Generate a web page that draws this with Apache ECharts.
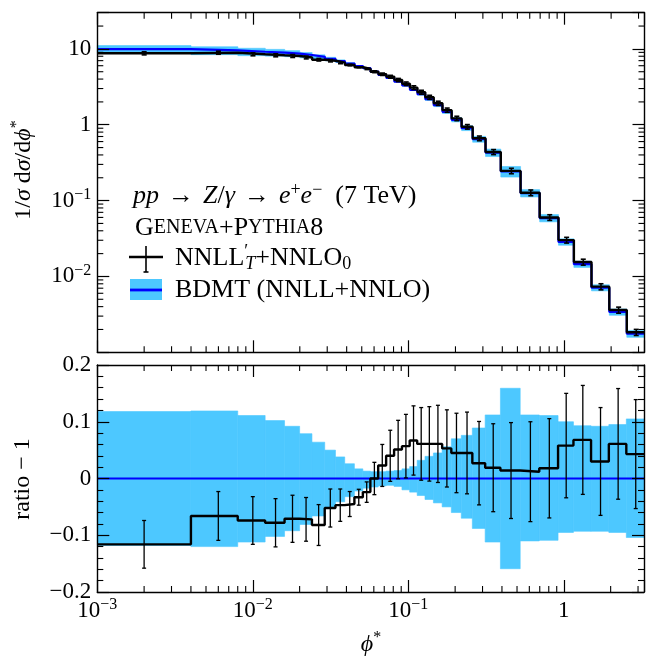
<!DOCTYPE html>
<html><head><meta charset="utf-8">
<script src="https://cdn.jsdelivr.net/npm/echarts@6/dist/echarts.min.js"></script>
<style>html,body{margin:0;padding:0;background:#fff}#c{width:647px;height:658px}</style>
</head><body><div id="c"></div>
<script>
// ---- data ----
const edges = [0, 0.004, 0.008, 0.012, 0.016, 0.020, 0.024, 0.029, 0.034, 0.039, 0.045, 0.051, 0.057, 0.064, 0.072, 0.081, 0.091, 0.102, 0.114, 0.128, 0.145, 0.165, 0.189, 0.219, 0.258, 0.312, 0.391, 0.524, 0.695, 0.918, 1.153, 1.496, 1.947, 2.522, 3.277];
// BDMT central value, 1/sigma dsigma/dphi*
const bdmt = [9.90, 9.54, 9.17, 8.94, 8.68, 8.30, 7.85, 7.37, 6.90, 6.42, 5.92, 5.57, 5.00, 4.53, 4.13, 3.70, 3.29, 2.89, 2.53, 2.17, 1.81, 1.48, 1.16, 0.90, 0.645, 0.429, 0.243, 0.1255, 0.0589, 0.0285, 0.0145, 0.00712, 0.0034, 0.00176];
// GENEVA / BDMT - 1 and its uncertainty
const ratio = [-0.116, -0.066, -0.074, -0.078, -0.071, -0.072, -0.082, -0.052, -0.047, -0.045, -0.033, -0.024, 0.000, 0.023, 0.040, 0.051, 0.057, 0.067, 0.061, 0.061, 0.061, 0.053, 0.045, 0.045, 0.027, 0.019, 0.014, 0.012, 0.018, 0.058, 0.068, 0.030, 0.061, 0.043];
const ratioErr = [0.042, 0.043, 0.042, 0.0425, 0.0415, 0.0385, 0.036, 0.0335, 0.0285, 0.022, 0.014, 0.018, 0.0285, 0.037, 0.045, 0.0515, 0.056, 0.061, 0.064, 0.0656, 0.068, 0.068, 0.070, 0.072, 0.0735, 0.0775, 0.0845, 0.088, 0.0875, 0.092, 0.096, 0.095, 0.0975, 0.096];
// BDMT relative uncertainty band (up / down)
const bandUp = [0.118, 0.119, 0.111, 0.102, 0.092, 0.079, 0.064, 0.050, 0.038, 0.026, 0.017, 0.013, 0.012, 0.012, 0.013, 0.014, 0.017, 0.021, 0.032, 0.039, 0.045, 0.056, 0.070, 0.076, 0.089, 0.112, 0.159, 0.112, 0.111, 0.100, 0.093, 0.092, 0.095, 0.105];
const bandDn = [0.118, 0.120, 0.112, 0.102, 0.092, 0.081, 0.066, 0.053, 0.041, 0.032, 0.022, 0.017, 0.015, 0.013, 0.012, 0.014, 0.020, 0.024, 0.030, 0.037, 0.043, 0.050, 0.060, 0.070, 0.088, 0.112, 0.159, 0.110, 0.109, 0.095, 0.093, 0.093, 0.095, 0.104];
// tick labels
const xLabelDecades = [0.001, 0.01, 0.1, 1];
const yTopLabelDecades = [0.01, 0.1, 1, 10];
const yRatioTicks = [-0.2, -0.1, 0, 0.1, 0.2];
const minorMult = [2, 3, 4, 5, 6, 7, 8, 9];

// ---- style ----
const X_MIN = 0.001, X_MAX = 3.277, Y_MIN = 0.001, Y_MAX = 30;
const FONT = '"Liberation Serif", "DejaVu Serif", serif';
const BAND = '#4dc8ff', BLUE = '#0000ff', BLACK = '#000000';
const TICK_FS = 23, LEG_FS = 26, TITLE_FS = 24;

const lo = i => Math.max(edges[i], X_MIN);
const hi = i => edges[i + 1];
const mid = i => (edges[i] + edges[i + 1]) / 2;
function stepPts(vals) { const p = []; vals.forEach((v, i) => { p.push([lo(i), v], [hi(i), v]); }); return p; }
const geneva = bdmt.map((b, i) => b * (1 + ratio[i]));
const zeros = bdmt.map(() => 0);

function minorList(a, b) {
  const out = [];
  for (let e = -4; e <= 2; e++) minorMult.forEach(m => { const v = m * Math.pow(10, e); if (v > a * 1.0001 && v < b * 0.9999) out.push(v); });
  return out;
}
const xMinor = minorList(X_MIN, X_MAX);
const yMinor = minorList(Y_MIN, Y_MAX);

function isIn(v, arr) { return arr.some(t => Math.abs(Math.log10(t) - Math.log10(v)) < 1e-6); }
function decadeLabel(v, arr) {
  if (!(v > 0) || !isIn(v, arr)) return '';
  const e = Math.round(Math.log10(v));
  if (e === 0) return '{b|1}';
  if (e === 1) return '{b|10}';
  return '{b|10}{s|' + (e < 0 ? '\u2212' : '') + Math.abs(e) + '}';
}
const tickRich = {
  b: { fontSize: TICK_FS, fontFamily: FONT, lineHeight: 27, color: BLACK },
  s: { fontSize: 16, fontFamily: FONT, lineHeight: 16, verticalAlign: 'top', color: BLACK }
};
const axLine = { show: true, onZero: false, lineStyle: { color: BLACK, width: 1.4 } };
const axTick = { show: true, inside: true, length: 12, lineStyle: { color: BLACK, width: 1.2 } };

function logX(grid, pos, labels) {
  return {
    gridIndex: grid, type: 'log', logBase: 10, min: X_MIN, max: X_MAX, position: pos, z: 10,
    axisLine: axLine, axisTick: axTick, splitLine: { show: false },
    axisLabel: labels ? { show: true, margin: 5, formatter: v => decadeLabel(v, xLabelDecades), rich: tickRich } : { show: false }
  };
}
function logY(pos, labels) {
  return {
    gridIndex: 0, type: 'log', logBase: 10, min: Y_MIN, max: Y_MAX, position: pos, z: 10,
    axisLine: axLine, axisTick: axTick, splitLine: { show: false },
    axisLabel: labels ? { show: true, margin: 6, formatter: v => decadeLabel(v, yTopLabelDecades), rich: tickRich } : { show: false }
  };
}
function ratioY(pos, labels) {
  return {
    gridIndex: 1, type: 'value', min: yRatioTicks[0], max: yRatioTicks[yRatioTicks.length - 1], interval: 0.1, position: pos, z: 10,
    axisLine: axLine, axisTick: axTick, splitLine: { show: false },
    minorTick: { show: true, splitNumber: 5, length: 6, lineStyle: { color: BLACK, width: 1.1 } },
    axisLabel: labels ? {
      show: true, margin: 6, fontSize: TICK_FS, fontFamily: FONT, color: BLACK,
      formatter: v => { const r = Math.round(v * 10) / 10; if (r === 0) return '0'; return (r < 0 ? '\u2212' : '') + Math.abs(r).toFixed(1); }
    } : { show: false }
  };
}

function minorTicks(xi, yi, yRef, doY) {
  return {
    type: 'custom', xAxisIndex: xi, yAxisIndex: yi, silent: true, z: 9,
    data: [[X_MIN, yRef]],
    renderItem(params, api) {
      const cs = params.coordSys, ch = [];
      const ls = { stroke: BLACK, lineWidth: 1.1 };
      xMinor.forEach(v => {
        const px = api.coord([v, yRef])[0];
        ch.push({ type: 'line', shape: { x1: px, y1: cs.y + cs.height, x2: px, y2: cs.y + cs.height - 6 }, style: ls });
        ch.push({ type: 'line', shape: { x1: px, y1: cs.y, x2: px, y2: cs.y + 6 }, style: ls });
      });
      if (doY) yMinor.forEach(v => {
        const py = api.coord([X_MIN, v])[1];
        ch.push({ type: 'line', shape: { x1: cs.x, y1: py, x2: cs.x + 6, y2: py }, style: ls });
        ch.push({ type: 'line', shape: { x1: cs.x + cs.width, y1: py, x2: cs.x + cs.width - 6, y2: py }, style: ls });
      });
      return { type: 'group', children: ch };
    }
  };
}
function bandSeries(xi, yi, items) {
  return {
    type: 'custom', xAxisIndex: xi, yAxisIndex: yi, silent: true, z: 1,
    encode: { x: [0, 1], y: [2, 3] }, data: items,
    renderItem(params, api) {
      const a = api.coord([api.value(0), api.value(3)]);
      const b = api.coord([api.value(1), api.value(2)]);
      return { type: 'rect', shape: { x: a[0], y: a[1], width: b[0] - a[0], height: b[1] - a[1] }, style: { fill: BAND, stroke: BAND, lineWidth: 0.6 } };
    }
  };
}
function errSeries(xi, yi, items, cap, lw) {
  return {
    type: 'custom', xAxisIndex: xi, yAxisIndex: yi, silent: true, z: 5,
    encode: { x: 0, y: [1, 2] }, data: items,
    renderItem(params, api) {
      const t = api.coord([api.value(0), api.value(2)]);
      const b = api.coord([api.value(0), api.value(1)]);
      const st = { stroke: BLACK, lineWidth: lw };
      return { type: 'group', children: [
        { type: 'line', shape: { x1: t[0], y1: t[1], x2: b[0], y2: b[1] }, style: st },
        { type: 'line', shape: { x1: t[0] - cap, y1: t[1], x2: t[0] + cap, y2: t[1] }, style: st },
        { type: 'line', shape: { x1: b[0] - cap, y1: b[1], x2: b[0] + cap, y2: b[1] }, style: st }
      ] };
    }
  };
}
function stepSeries(xi, yi, vals, color, w, z) {
  return { type: 'line', xAxisIndex: xi, yAxisIndex: yi, data: stepPts(vals), showSymbol: false, symbol: 'none', silent: true, z: z,
    lineStyle: { color: color, width: w }, clip: true };
}

const series = [
  bandSeries(0, 0, bdmt.map((b, i) => [lo(i), hi(i), b * (1 - bandDn[i]), b * (1 + bandUp[i])])),
  stepSeries(0, 0, bdmt, BLUE, 2.2, 2),
  stepSeries(0, 0, geneva, BLACK, 2.4, 3),
  errSeries(0, 0, bdmt.map((b, i) => [mid(i), b * (1 + ratio[i] - ratioErr[i]), b * (1 + ratio[i] + ratioErr[i])]), 2.5, 1.6),
  minorTicks(0, 0, Y_MIN, true),
  bandSeries(2, 2, bdmt.map((b, i) => [lo(i), hi(i), -bandDn[i], bandUp[i]])),
  stepSeries(2, 2, zeros, BLUE, 2.2, 2),
  stepSeries(2, 2, ratio, BLACK, 2.4, 3),
  errSeries(2, 2, ratio.map((r, i) => [mid(i), r - ratioErr[i], r + ratioErr[i]]), 2, 1.3),
  minorTicks(2, 2, 0, false)
];

function richSet(fs) {
  return {
    n: { fontSize: fs, fontFamily: FONT, lineHeight: 30, color: BLACK },
    i: { fontSize: fs, fontFamily: FONT, fontStyle: 'italic', lineHeight: 30, color: BLACK },
    sp: { fontSize: fs, fontFamily: FONT, lineHeight: 30, width: 9 },
    sc: { fontSize: Math.round(fs * 0.76), fontFamily: FONT, lineHeight: 30, color: BLACK },
    sup: { fontSize: Math.round(fs * 0.68), fontFamily: FONT, lineHeight: 17, verticalAlign: 'top', color: BLACK },
    pr: { fontSize: Math.round(fs * 0.68), fontFamily: FONT, lineHeight: 17, verticalAlign: 'top', color: BLACK, width: 1 },
    sub: { fontSize: Math.round(fs * 0.68), fontFamily: FONT, lineHeight: 16, verticalAlign: 'bottom', color: BLACK },
    subi: { fontSize: Math.round(fs * 0.68), fontFamily: FONT, fontStyle: 'italic', lineHeight: 16, verticalAlign: 'bottom', color: BLACK }
  };
}
function txt(x, y, text, fs, extra) {
  return Object.assign({ type: 'text', x: x, y: y, z: 20, silent: true,
    style: { text: text, fontSize: fs, fontFamily: FONT, fill: BLACK, align: 'left', verticalAlign: 'middle', rich: richSet(fs) } }, extra || {});
}

const graphic = [
  txt(133, 196, '{i|pp}{sp| }{n|\u2192}{sp| }{i|Z}{n|/}{i|\u03b3}{sp| }{n|\u2192}{sp| }{i|e}{sup|+}{i|e}{sup|\u2212}{n|  (7 TeV)}', LEG_FS),
  txt(135, 228, '{n|G}{sc|ENEVA}{n|+P}{sc|YTHIA}{n|8}', LEG_FS),
  txt(175, 258, '{n|NNLL}{pr|\u2032}{subi|T}{n|+NNLO}{sub|0}', LEG_FS),
  txt(175, 290, '{n|BDMT (NNLL+NNLO)}', LEG_FS),
  { type: 'line', z: 20, shape: { x1: 129, y1: 257, x2: 163, y2: 257 }, style: { stroke: BLACK, lineWidth: 2.4 } },
  { type: 'line', z: 20, shape: { x1: 146, y1: 246, x2: 146, y2: 272 }, style: { stroke: BLACK, lineWidth: 1.6 } },
  { type: 'line', z: 20, shape: { x1: 143.5, y1: 272, x2: 148.5, y2: 272 }, style: { stroke: BLACK, lineWidth: 1.6 } },
  { type: 'rect', z: 19, shape: { x: 130, y: 279, width: 32, height: 21 }, style: { fill: BAND } },
  { type: 'line', z: 20, shape: { x1: 130, y1: 290, x2: 162, y2: 290 }, style: { stroke: BLUE, lineWidth: 2.8 } },
  // axis titles
  txt(24, 170, '{n|1/}{i|\u03c3}{n| d}{i|\u03c3}{n|/d}{i|\u03d5}{sup|*}', TITLE_FS, { rotation: Math.PI / 2 }),
  txt(23, 479, '{n|ratio \u2212 1}', TITLE_FS, { rotation: Math.PI / 2 }),
  txt(371, 645, '{i|\u03d5}{sup|*}', TITLE_FS)
];
graphic.forEach(g => { if (g.type === 'text' && (g.rotation || g.x === 371)) g.style.align = 'center'; });

const chart = echarts.init(document.getElementById('c'), null, { renderer: 'canvas' });
chart.setOption({
  animation: false,
  backgroundColor: '#ffffff',
  grid: [
    { left: 97.3, top: 12.7, width: 547.2, height: 339.6 },
    { left: 97.3, top: 365, width: 547.2, height: 227 }
  ],
  xAxis: [logX(0, 'bottom', false), logX(0, 'top', false), logX(1, 'bottom', true), logX(1, 'top', false)],
  yAxis: [logY('left', true), logY('right', false), ratioY('left', true), ratioY('right', false)],
  series: series,
  graphic: graphic
});
</script>
</body></html>
